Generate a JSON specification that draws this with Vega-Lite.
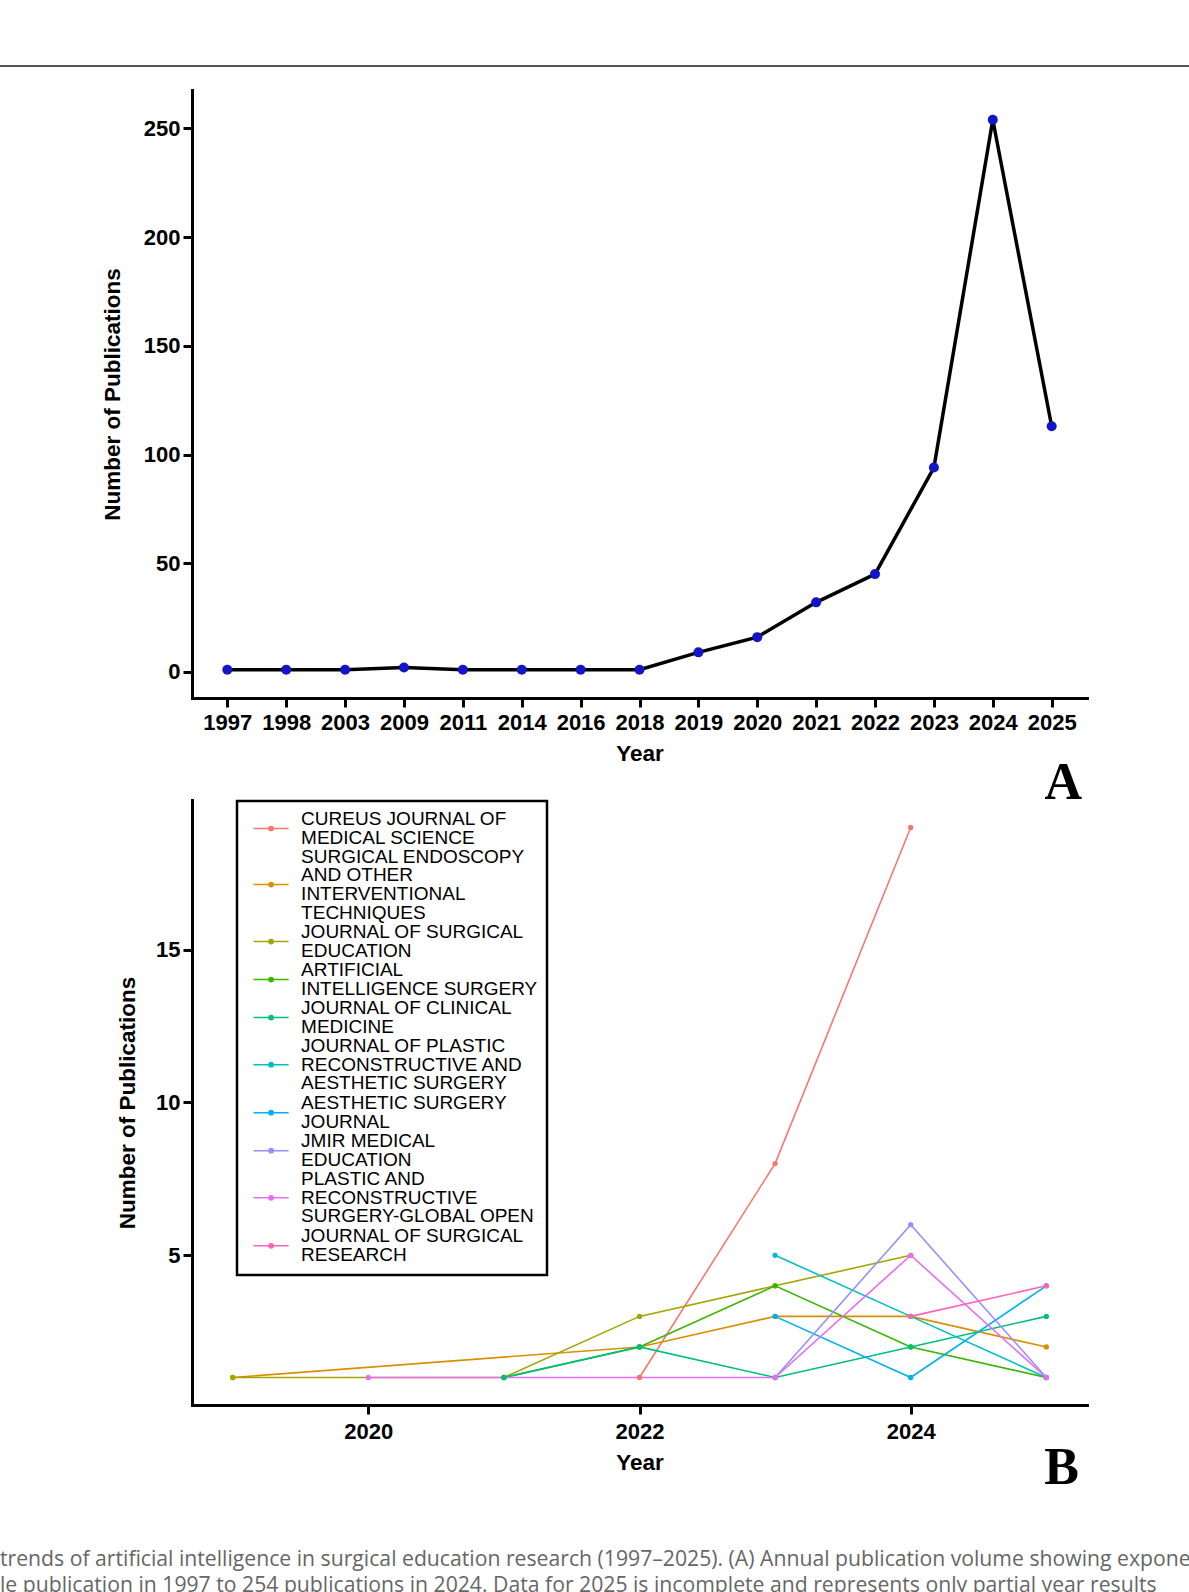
{
  "$schema": "https://vega.github.io/schema/vega-lite/v6.json",
  "background": "white",
  "padding": {"left": 0, "top": 65, "right": 0, "bottom": 0},
  "bounds": "flush",
  "spacing": 23,
  "resolve": {"scale": {"color": "independent"}, "legend": {"color": "independent"}},
  "params": [
    {
      "name": "wrapped",
      "value": {
        "CUREUS JOURNAL OF MEDICAL SCIENCE": ["CUREUS JOURNAL OF", "MEDICAL SCIENCE"],
        "SURGICAL ENDOSCOPY AND OTHER INTERVENTIONAL TECHNIQUES": ["SURGICAL ENDOSCOPY", "AND OTHER", "INTERVENTIONAL", "TECHNIQUES"],
        "JOURNAL OF SURGICAL EDUCATION": ["JOURNAL OF SURGICAL", "EDUCATION"],
        "ARTIFICIAL INTELLIGENCE SURGERY": ["ARTIFICIAL", "INTELLIGENCE SURGERY"],
        "JOURNAL OF CLINICAL MEDICINE": ["JOURNAL OF CLINICAL", "MEDICINE"],
        "JOURNAL OF PLASTIC RECONSTRUCTIVE AND AESTHETIC SURGERY": ["JOURNAL OF PLASTIC", "RECONSTRUCTIVE AND", "AESTHETIC SURGERY"],
        "AESTHETIC SURGERY JOURNAL": ["AESTHETIC SURGERY", "JOURNAL"],
        "JMIR MEDICAL EDUCATION": ["JMIR MEDICAL", "EDUCATION"],
        "PLASTIC AND RECONSTRUCTIVE SURGERY-GLOBAL OPEN": ["PLASTIC AND", "RECONSTRUCTIVE", "SURGERY-GLOBAL OPEN"],
        "JOURNAL OF SURGICAL RESEARCH": ["JOURNAL OF SURGICAL", "RESEARCH"]
      }
    }
  ],
  "title": {
    "text": [
      "trends of artificial intelligence in surgical education research (1997–2025). (A) Annual publication volume showing expone",
      "le publication in 1997 to 254 publications in 2024. Data for 2025 is incomplete and represents only partial year results"
    ],
    "orient": "bottom",
    "anchor": "start",
    "frame": "bounds",
    "align": "left",
    "font": "Open Sans",
    "fontSize": 21.2,
    "fontWeight": "normal",
    "color": "#666666",
    "lineHeight": 26,
    "offset": 55
  },
  "config": {
    "view": {"stroke": null},
    "font": "Liberation Sans",
    "axis": {
      "grid": false,
      "domainColor": "black",
      "domainCap": "square",
      "tickColor": "black",
      "labelColor": "black",
      "titleColor": "black",
      "labelFont": "Liberation Sans",
      "labelFontWeight": "bold",
      "titleFont": "Liberation Sans",
      "titleFontWeight": "bold"
    }
  },
  "vconcat": [
    {
      "width": 1189,
      "height": 2,
      "view": {"fill": "#555555", "stroke": null},
      "data": {"values": []},
      "mark": "point"
    },
    {
      "bounds": "flush",
      "spacing": 20,
      "resolve": {"scale": {"color": "independent"}, "legend": {"color": "independent"}},
      "hconcat": [
        {
          "width": 172,
          "height": 1,
          "data": {"values": []},
          "mark": "point"
        },
        {
          "bounds": "flush",
          "spacing": 102,
          "resolve": {"scale": {"color": "independent"}, "legend": {"color": "independent"}},
          "vconcat": [
            {
              "width": 895,
              "height": 608,
              "title": {
                "text": "A",
                "orient": "bottom",
                "anchor": "end",
                "frame": "group",
                "font": "Liberation Serif",
                "fontSize": 52,
                "fontWeight": "bold",
                "color": "black",
                "offset": -7,
                "dx": -5
              },
              "data": {
                "values": [
                  {"Year": "1997", "Publications": 1},
                  {"Year": "1998", "Publications": 1},
                  {"Year": "2003", "Publications": 1},
                  {"Year": "2009", "Publications": 2},
                  {"Year": "2011", "Publications": 1},
                  {"Year": "2014", "Publications": 1},
                  {"Year": "2016", "Publications": 1},
                  {"Year": "2018", "Publications": 1},
                  {"Year": "2019", "Publications": 9},
                  {"Year": "2020", "Publications": 16},
                  {"Year": "2021", "Publications": 32},
                  {"Year": "2022", "Publications": 45},
                  {"Year": "2023", "Publications": 94},
                  {"Year": "2024", "Publications": 254},
                  {"Year": "2025", "Publications": 113}
                ]
              },
              "encoding": {
                "x": {
                  "field": "Year",
                  "type": "ordinal",
                  "scale": {"type": "point", "padding": 0.6},
                  "axis": {
                    "title": "Year",
                    "labelAngle": 0,
                    "domainWidth": 3,
                    "tickWidth": 3,
                    "tickSize": 9,
                    "labelFontSize": 22,
                    "labelPadding": 5.6,
                    "titleFontSize": 22.5,
                    "titlePadding": 8.4
                  }
                },
                "y": {
                  "field": "Publications",
                  "type": "quantitative",
                  "scale": {"domain": [-12, 267.7], "nice": false, "zero": false},
                  "axis": {
                    "title": "Number of Publications",
                    "values": [0, 50, 100, 150, 200, 250],
                    "domainWidth": 3,
                    "tickWidth": 3,
                    "tickSize": 9,
                    "labelFontSize": 22,
                    "labelPadding": 3,
                    "titleFontSize": 22.5,
                    "titlePadding": 18.7
                  }
                }
              },
              "layer": [
                {"mark": {"type": "line", "color": "black", "strokeWidth": 3.5}},
                {"mark": {"type": "point", "filled": true, "color": "#1414c8", "size": 100, "opacity": 1}}
              ]
            },
            {
              "width": 895,
              "height": 605,
              "title": {
                "text": "B",
                "orient": "bottom",
                "anchor": "end",
                "frame": "group",
                "font": "Liberation Serif",
                "fontSize": 52,
                "fontWeight": "bold",
                "color": "black",
                "offset": -31,
                "dx": -8
              },
              "data": {
                "values": [
                  {"Journal": "CUREUS JOURNAL OF MEDICAL SCIENCE", "Year": 2022, "Publications": 1},
                  {"Journal": "CUREUS JOURNAL OF MEDICAL SCIENCE", "Year": 2023, "Publications": 8},
                  {"Journal": "CUREUS JOURNAL OF MEDICAL SCIENCE", "Year": 2024, "Publications": 19},
                  {"Journal": "SURGICAL ENDOSCOPY AND OTHER INTERVENTIONAL TECHNIQUES", "Year": 2019, "Publications": 1},
                  {"Journal": "SURGICAL ENDOSCOPY AND OTHER INTERVENTIONAL TECHNIQUES", "Year": 2022, "Publications": 2},
                  {"Journal": "SURGICAL ENDOSCOPY AND OTHER INTERVENTIONAL TECHNIQUES", "Year": 2023, "Publications": 3},
                  {"Journal": "SURGICAL ENDOSCOPY AND OTHER INTERVENTIONAL TECHNIQUES", "Year": 2024, "Publications": 3},
                  {"Journal": "SURGICAL ENDOSCOPY AND OTHER INTERVENTIONAL TECHNIQUES", "Year": 2025, "Publications": 2},
                  {"Journal": "JOURNAL OF SURGICAL EDUCATION", "Year": 2019, "Publications": 1},
                  {"Journal": "JOURNAL OF SURGICAL EDUCATION", "Year": 2021, "Publications": 1},
                  {"Journal": "JOURNAL OF SURGICAL EDUCATION", "Year": 2022, "Publications": 3},
                  {"Journal": "JOURNAL OF SURGICAL EDUCATION", "Year": 2023, "Publications": 4},
                  {"Journal": "JOURNAL OF SURGICAL EDUCATION", "Year": 2024, "Publications": 5},
                  {"Journal": "ARTIFICIAL INTELLIGENCE SURGERY", "Year": 2021, "Publications": 1},
                  {"Journal": "ARTIFICIAL INTELLIGENCE SURGERY", "Year": 2022, "Publications": 2},
                  {"Journal": "ARTIFICIAL INTELLIGENCE SURGERY", "Year": 2023, "Publications": 4},
                  {"Journal": "ARTIFICIAL INTELLIGENCE SURGERY", "Year": 2024, "Publications": 2},
                  {"Journal": "ARTIFICIAL INTELLIGENCE SURGERY", "Year": 2025, "Publications": 1},
                  {"Journal": "JOURNAL OF CLINICAL MEDICINE", "Year": 2021, "Publications": 1},
                  {"Journal": "JOURNAL OF CLINICAL MEDICINE", "Year": 2022, "Publications": 2},
                  {"Journal": "JOURNAL OF CLINICAL MEDICINE", "Year": 2023, "Publications": 1},
                  {"Journal": "JOURNAL OF CLINICAL MEDICINE", "Year": 2024, "Publications": 2},
                  {"Journal": "JOURNAL OF CLINICAL MEDICINE", "Year": 2025, "Publications": 3},
                  {"Journal": "JOURNAL OF PLASTIC RECONSTRUCTIVE AND AESTHETIC SURGERY", "Year": 2023, "Publications": 5},
                  {"Journal": "JOURNAL OF PLASTIC RECONSTRUCTIVE AND AESTHETIC SURGERY", "Year": 2024, "Publications": 3},
                  {"Journal": "JOURNAL OF PLASTIC RECONSTRUCTIVE AND AESTHETIC SURGERY", "Year": 2025, "Publications": 1},
                  {"Journal": "AESTHETIC SURGERY JOURNAL", "Year": 2023, "Publications": 3},
                  {"Journal": "AESTHETIC SURGERY JOURNAL", "Year": 2024, "Publications": 1},
                  {"Journal": "AESTHETIC SURGERY JOURNAL", "Year": 2025, "Publications": 4},
                  {"Journal": "JMIR MEDICAL EDUCATION", "Year": 2023, "Publications": 1},
                  {"Journal": "JMIR MEDICAL EDUCATION", "Year": 2024, "Publications": 6},
                  {"Journal": "JMIR MEDICAL EDUCATION", "Year": 2025, "Publications": 1},
                  {"Journal": "PLASTIC AND RECONSTRUCTIVE SURGERY-GLOBAL OPEN", "Year": 2020, "Publications": 1},
                  {"Journal": "PLASTIC AND RECONSTRUCTIVE SURGERY-GLOBAL OPEN", "Year": 2023, "Publications": 1},
                  {"Journal": "PLASTIC AND RECONSTRUCTIVE SURGERY-GLOBAL OPEN", "Year": 2024, "Publications": 5},
                  {"Journal": "PLASTIC AND RECONSTRUCTIVE SURGERY-GLOBAL OPEN", "Year": 2025, "Publications": 1},
                  {"Journal": "JOURNAL OF SURGICAL RESEARCH", "Year": 2024, "Publications": 3},
                  {"Journal": "JOURNAL OF SURGICAL RESEARCH", "Year": 2025, "Publications": 4}
                ]
              },
              "encoding": {
                "x": {
                  "field": "Year",
                  "type": "quantitative",
                  "scale": {"domain": [2018.7, 2025.3], "nice": false, "zero": false},
                  "axis": {
                    "title": "Year",
                    "values": [2020, 2022, 2024],
                    "format": "d",
                    "domainWidth": 3,
                    "tickWidth": 3,
                    "tickSize": 9,
                    "labelFontSize": 22,
                    "labelPadding": 7.3,
                    "titleFontSize": 22.5,
                    "titlePadding": 9.6
                  }
                },
                "y": {
                  "field": "Publications",
                  "type": "quantitative",
                  "scale": {"domain": [0.1, 19.9], "nice": false, "zero": false},
                  "axis": {
                    "title": "Number of Publications",
                    "values": [5, 10, 15],
                    "domainWidth": 3,
                    "tickWidth": 3,
                    "tickSize": 9,
                    "labelFontSize": 22,
                    "labelPadding": 3,
                    "titleFontSize": 22.5,
                    "titlePadding": 15.9
                  }
                },
                "color": {
                  "field": "Journal",
                  "type": "nominal",
                  "scale": {
                    "domain": [
                      "CUREUS JOURNAL OF MEDICAL SCIENCE",
                      "SURGICAL ENDOSCOPY AND OTHER INTERVENTIONAL TECHNIQUES",
                      "JOURNAL OF SURGICAL EDUCATION",
                      "ARTIFICIAL INTELLIGENCE SURGERY",
                      "JOURNAL OF CLINICAL MEDICINE",
                      "JOURNAL OF PLASTIC RECONSTRUCTIVE AND AESTHETIC SURGERY",
                      "AESTHETIC SURGERY JOURNAL",
                      "JMIR MEDICAL EDUCATION",
                      "PLASTIC AND RECONSTRUCTIVE SURGERY-GLOBAL OPEN",
                      "JOURNAL OF SURGICAL RESEARCH"
                    ],
                    "range": ["#F8766D", "#D89000", "#A3A500", "#39B600", "#00BF7D", "#00BFC4", "#00B0F6", "#9590FF", "#E76BF3", "#FF62BC"]
                  },
                  "legend": {
                    "title": null,
                    "orient": "none",
                    "legendX": 45,
                    "legendY": 1,
                    "symbolType": "M-1,0H1M0.12,0A0.12,0.12,0,1,1,-0.12,0A0.12,0.12,0,1,1,0.12,0Z",
                    "symbolSize": 1225,
                    "symbolStrokeWidth": 1.5,
                    "symbolOffset": 6.6,
                    "labelFont": "Liberation Sans",
                    "labelFontSize": 19,
                    "labelColor": "black",
                    "labelLimit": 400,
                    "labelOffset": 11.5,
                    "labelExpr": "wrapped[datum.value]",
                    "padding": 9,
                    "rowPadding": -0.9,
                    "strokeColor": "black",
                    "fillColor": "white",
                    "encode": {
                      "legend": {"update": {"strokeWidth": {"value": 2.5}}},
                      "labels": {
                        "update": {
                          "lineHeight": {"value": 18.7},
                          "dy": {"signal": "-(length(wrapped[datum.value]) - 1) * 9.35"}
                        }
                      }
                    }
                  }
                }
              },
              "layer": [
                {"mark": {"type": "line", "strokeWidth": 1.6}},
                {"mark": {"type": "point", "filled": true, "size": 28, "opacity": 1}}
              ]
            }
          ]
        }
      ]
    }
  ]
}
